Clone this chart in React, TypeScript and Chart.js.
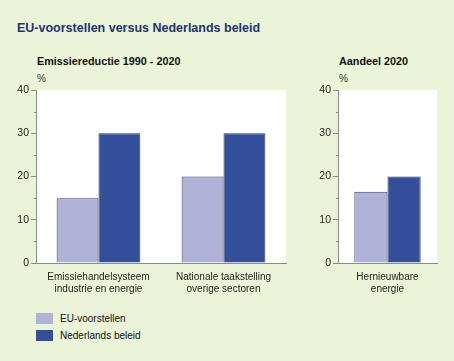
import React, { useEffect, useRef } from "react";
import { Chart, registerables } from "chart.js";

Chart.register(...registerables);

const title = "EU-voorstellen versus Nederlands beleid";
const seriesNames = ["EU-voorstellen", "Nederlands beleid"];
const seriesColors = ["#b0b2d8", "#344e9a"];

const leftTitle = "Emissiereductie 1990 - 2020";
const leftCategories = [
  ["Emissiehandelsysteem", "industrie en energie"],
  ["Nationale taakstelling", "overige sectoren"],
];
const leftEU = [15, 20];
const leftNL = [30, 30];

const rightTitle = "Aandeel 2020";
const rightCategories = [["Hernieuwbare", "energie"]];
const rightEU = [16.5];
const rightNL = [20];

const yTicks = [0, 10, 20, 30, 40];
const minorTicks = [5, 15, 25, 35];
const unitLabel = "%";

const FONT = "'Liberation Sans', Arial, sans-serif";

const bgPlugin = {
  id: "plotBg",
  beforeDraw(chart: any) {
    const { ctx, chartArea } = chart;
    ctx.save();
    ctx.fillStyle = "#ffffff";
    ctx.fillRect(chartArea.left, chartArea.top, chartArea.right - chartArea.left, chartArea.bottom - chartArea.top);
    ctx.restore();
  },
  afterDraw(chart: any) {
    const { ctx } = chart;
    const y = chart.scales.y;
    ctx.save();
    ctx.strokeStyle = "#8a8a8a";
    ctx.lineWidth = 1;
    minorTicks.forEach((v) => {
      const py = Math.round(y.getPixelForValue(v)) + 0.5;
      ctx.beginPath();
      ctx.moveTo(y.right - 2, py);
      ctx.lineTo(y.right, py);
      ctx.stroke();
    });
    ctx.restore();
  },
};

function BarPanel(props: {
  categories: string[][];
  eu: number[];
  nl: number[];
  width: number;
  yWidth: number;
  padRight: number;
}) {
  const ref = useRef<HTMLCanvasElement>(null);
  useEffect(() => {
    const chart = new Chart(ref.current!, {
      type: "bar",
      data: {
        labels: props.categories,
        datasets: [
          {
            label: seriesNames[0],
            data: props.eu,
            backgroundColor: seriesColors[0],
            borderColor: "#3c3f66",
            borderWidth: 1,
            borderSkipped: "bottom",
          },
          {
            label: seriesNames[1],
            data: props.nl,
            backgroundColor: seriesColors[1],
            borderColor: "#2a3560",
            borderWidth: 1,
            borderSkipped: "bottom",
          },
        ],
      },
      options: {
        animation: false,
        responsive: false,
        maintainAspectRatio: false,
        events: [],
        layout: { padding: { top: 10, right: props.padRight, left: 0, bottom: 0 } },
        datasets: { bar: { categoryPercentage: 0.67, barPercentage: 1.0 } },
        plugins: { legend: { display: false }, tooltip: { enabled: false }, title: { display: false } },
        scales: {
          x: {
            grid: { display: false, drawTicks: false },
            border: { display: true, color: "#8a8a8a", width: 1 },
            ticks: {
              color: "#222",
              font: { family: FONT, size: 10, lineHeight: 1.2 },
              padding: 8,
              maxRotation: 0,
              autoSkip: false,
            },
            afterFit(scale: any) {
              scale.height = 37;
            },
          },
          y: {
            min: 0,
            max: 40,
            afterBuildTicks(scale: any) {
              scale.ticks = yTicks.map((v) => ({ value: v }));
            },
            grid: { drawOnChartArea: false, drawTicks: true, tickLength: 5, color: "#8a8a8a" },
            border: { display: true, color: "#8a8a8a", width: 1 },
            ticks: { color: "#222", font: { family: FONT, size: 10.5 }, padding: 2 },
            afterFit(scale: any) {
              scale.width = props.yWidth;
            },
          },
        },
      },
      plugins: [bgPlugin],
    } as any);
    return () => chart.destroy();
  }, []);
  return <canvas ref={ref} width={props.width} height={220} style={{ display: "block" }} />;
}

export default function App() {
  const text = (s: string, x: number, y: number, style: any) => (
    <div style={{ position: "absolute", left: x, top: y, whiteSpace: "nowrap", fontFamily: FONT, lineHeight: 1, ...style }}>{s}</div>
  );
  return (
    <div style={{ position: "fixed", left: 0, top: 0, width: 454, height: 361, background: "#eaf5d8", overflow: "hidden" }}>
      {text(title, 17, 22, { fontSize: 12.5, fontWeight: "bold", color: "#23317a" })}
      {text(leftTitle, 37, 56, { fontSize: 10.8, fontWeight: "bold", color: "#111" })}
      {text(rightTitle, 339, 56, { fontSize: 10.8, fontWeight: "bold", color: "#111" })}
      {text(unitLabel, 37, 74, { fontSize: 10, color: "#333" })}
      {text(unitLabel, 339, 74, { fontSize: 10, color: "#333" })}
      <div style={{ position: "absolute", left: 0, top: 80, width: 300, height: 220 }}>
        <BarPanel categories={leftCategories} eu={leftEU} nl={leftNL} width={300} yWidth={36} padRight={14} />
      </div>
      <div style={{ position: "absolute", left: 300, top: 80, width: 154, height: 220 }}>
        <BarPanel categories={rightCategories} eu={rightEU} nl={rightNL} width={154} yWidth={38} padRight={17} />
      </div>
      {seriesNames.map((n, i) => (
        <div key={n} style={{ position: "absolute", left: 36, top: 313 + i * 17, height: 11, display: "flex", alignItems: "center" }}>
          <div style={{ width: 17, height: 11, background: seriesColors[i] }} />
          <div style={{ marginLeft: 7, fontFamily: FONT, fontSize: 10, color: "#111", whiteSpace: "nowrap" }}>{n}</div>
        </div>
      ))}
    </div>
  );
}
